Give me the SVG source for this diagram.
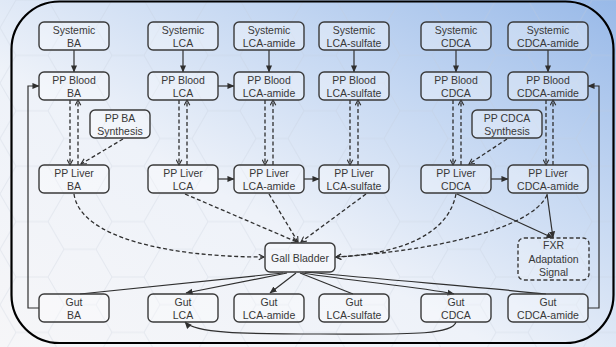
<svg xmlns="http://www.w3.org/2000/svg" width="616" height="347" viewBox="0 0 616 347">
  <defs>
    <linearGradient id="bg" x1="0" y1="1" x2="1" y2="0">
      <stop offset="0" stop-color="#f6f6f8"/>
      <stop offset="0.4" stop-color="#eef2f9"/>
      <stop offset="0.7" stop-color="#c4d7f2"/>
      <stop offset="1" stop-color="#98b9e8"/>
    </linearGradient>
    <pattern id="hex" width="96" height="55.4" patternUnits="userSpaceOnUse">
      <path d="M0,27.7 L16,0 H48 L64,27.7 L48,55.4 H16 Z M64,27.7 H96" fill="none" stroke="#c3cbd8" stroke-width="1"/>
    </pattern>
    <marker id="ah" viewBox="0 0 8 8" refX="7.5" refY="4" markerWidth="7" markerHeight="7" markerUnits="userSpaceOnUse" orient="auto">
      <path d="M0,0.5 L8,4 L0,7.5 Z" fill="#2f2f2f"/>
    </marker>
    <marker id="av" viewBox="0 0 8 8" refX="7" refY="4" markerWidth="7" markerHeight="7" markerUnits="userSpaceOnUse" orient="auto">
      <path d="M1,0.8 L7,4 L1,7.2" fill="none" stroke="#2f2f2f" stroke-width="1.3"/>
    </marker>
    <style>
      .box { fill: #ffffff; fill-opacity: 0.35; stroke: #3a3a3a; stroke-width: 1.4; }
      .dbox { fill: #ffffff; fill-opacity: 0.25; stroke: #3a3a3a; stroke-width: 1.4; stroke-dasharray: 4 2.5; }
      .t { font-family: "Liberation Sans", Arial, sans-serif; font-size: 10.5px; fill: #383838; text-anchor: middle; }
      .s { fill: none; stroke: #2f2f2f; stroke-width: 1.2; }
      .sa { fill: none; stroke: #2f2f2f; stroke-width: 1.2; marker-end: url(#ah); }
      .d { fill: none; stroke: #2f2f2f; stroke-width: 1.3; stroke-dasharray: 4 2.5; marker-end: url(#av); }
    </style>
  </defs>

  <!-- background -->
  <rect x="0" y="0" width="616" height="347" fill="url(#bg)"/>
  <rect x="0" y="0" width="616" height="347" fill="url(#hex)" opacity="0.3"/>

  <!-- outer frame -->
  <rect x="11.5" y="1.5" width="602" height="341.5" rx="48" ry="48" fill="none" stroke="#000" stroke-width="2.2"/>

  <!-- connectors -->
  <g id="connectors">
    <!-- systemic to PP blood -->
    <line class="sa" x1="74" y1="50" x2="74" y2="72"/>
    <line class="sa" x1="183" y1="50" x2="183" y2="72"/>
    <line class="sa" x1="269" y1="50" x2="269" y2="72"/>
    <line class="sa" x1="354" y1="50" x2="354" y2="72"/>
    <line class="sa" x1="456" y1="50" x2="456" y2="72"/>
    <line class="sa" x1="548" y1="50" x2="548" y2="72"/>

    <!-- conversions -->
    <line class="sa" x1="218" y1="86" x2="234" y2="86"/>
    <line class="sa" x1="218" y1="179" x2="234" y2="179"/>
    <line class="sa" x1="304" y1="179" x2="319" y2="179"/>
    <line class="sa" x1="491" y1="179" x2="508" y2="179"/>

    <!-- blood / liver exchange -->
    <line class="d" x1="70" y1="100" x2="70" y2="165"/>
    <line class="d" x1="78" y1="165" x2="78" y2="100"/>
    <line class="d" x1="179" y1="100" x2="179" y2="165"/>
    <line class="d" x1="187" y1="165" x2="187" y2="100"/>
    <line class="d" x1="265" y1="100" x2="265" y2="165"/>
    <line class="d" x1="273" y1="165" x2="273" y2="100"/>
    <line class="d" x1="350" y1="100" x2="350" y2="165"/>
    <line class="d" x1="358" y1="165" x2="358" y2="100"/>
    <line class="d" x1="453" y1="100" x2="453" y2="165"/>
    <line class="d" x1="461" y1="165" x2="461" y2="100"/>
    <line class="d" x1="546" y1="100" x2="546" y2="165"/>
    <line class="d" x1="553" y1="165" x2="553" y2="100"/>

    <!-- synthesis -->
    <path class="d" d="M123,139 L81,164"/>
    <path class="d" d="M507,139 L469,164"/>

    <!-- liver to gall bladder -->
    <path class="d" d="M74,194 C80,238 170,257 264,257"/>
    <path class="d" d="M185,194 L297,242"/>
    <path class="d" d="M269,194 L298,242"/>
    <path class="d" d="M366,194 L301,242"/>
    <path class="d" d="M456,194 C448,235 400,254 336,257"/>
    <path class="d" d="M547,195 C530,232 420,252 336,257"/>

    <!-- FXR signal -->
    <path class="sa" d="M457,194 L553,238"/>
    <path class="sa" d="M547,194 L553,238"/>

    <!-- gall bladder to gut -->
    <path class="s" d="M283,273 L80,294"/>
    <path class="sa" d="M287,273 L186,293"/>
    <path class="sa" d="M296,273 L270,293"/>
    <path class="s" d="M300,273 L353,294"/>
    <path class="sa" d="M302,273 C360,282 420,287 454,294"/>
    <path class="s" d="M305,272 C400,281 500,289 546,294"/>

    <!-- gut CDCA to gut LCA -->
    <path class="sa" d="M456,322 C452,336 400,334 320,334 C240,334 195,333 185,322"/>

    <!-- recirculation -->
    <path class="sa" d="M39,308 H28 V86 H39"/>
    <path class="sa" d="M588,308 H599 V86 H588"/>
  </g>

  <!-- systemic row -->
  <g id="sys-ba"><rect class="box" x="39" y="22" width="70" height="28" rx="5"/><text class="t" x="74" y="33.5">Systemic</text><text class="t" x="74" y="47">BA</text></g>
  <g id="sys-lca"><rect class="box" x="148" y="22" width="70" height="28" rx="5"/><text class="t" x="183" y="33.5">Systemic</text><text class="t" x="183" y="47">LCA</text></g>
  <g id="sys-lca-amide"><rect class="box" x="234" y="22" width="70" height="28" rx="5"/><text class="t" x="269" y="33.5">Systemic</text><text class="t" x="269" y="47">LCA-amide</text></g>
  <g id="sys-lca-sulfate"><rect class="box" x="319" y="22" width="70" height="28" rx="5"/><text class="t" x="354" y="33.5">Systemic</text><text class="t" x="354" y="47">LCA-sulfate</text></g>
  <g id="sys-cdca"><rect class="box" x="421" y="22" width="70" height="28" rx="5"/><text class="t" x="456" y="33.5">Systemic</text><text class="t" x="456" y="47">CDCA</text></g>
  <g id="sys-cdca-amide"><rect class="box" x="508" y="22" width="80" height="28" rx="5"/><text class="t" x="548" y="33.5">Systemic</text><text class="t" x="548" y="47">CDCA-amide</text></g>

  <!-- portal blood row -->
  <g id="blood-ba"><rect class="box" x="39" y="72" width="70" height="28" rx="5"/><text class="t" x="74" y="83.5">PP Blood</text><text class="t" x="74" y="97">BA</text></g>
  <g id="blood-lca"><rect class="box" x="148" y="72" width="70" height="28" rx="5"/><text class="t" x="183" y="83.5">PP Blood</text><text class="t" x="183" y="97">LCA</text></g>
  <g id="blood-lca-amide"><rect class="box" x="234" y="72" width="70" height="28" rx="5"/><text class="t" x="269" y="83.5">PP Blood</text><text class="t" x="269" y="97">LCA-amide</text></g>
  <g id="blood-lca-sulfate"><rect class="box" x="319" y="72" width="70" height="28" rx="5"/><text class="t" x="354" y="83.5">PP Blood</text><text class="t" x="354" y="97">LCA-sulfate</text></g>
  <g id="blood-cdca"><rect class="box" x="421" y="72" width="70" height="28" rx="5"/><text class="t" x="456" y="83.5">PP Blood</text><text class="t" x="456" y="97">CDCA</text></g>
  <g id="blood-cdca-amide"><rect class="box" x="508" y="72" width="80" height="28" rx="5"/><text class="t" x="548" y="83.5">PP Blood</text><text class="t" x="548" y="97">CDCA-amide</text></g>

  <!-- synthesis -->
  <g id="synth-ba"><rect class="box" x="90" y="110" width="60" height="28" rx="5"/><text class="t" x="120" y="121.5">PP BA</text><text class="t" x="120" y="135">Synthesis</text></g>
  <g id="synth-cdca"><rect class="box" x="472" y="110" width="70" height="28" rx="5"/><text class="t" x="507" y="121.5">PP CDCA</text><text class="t" x="507" y="135">Synthesis</text></g>

  <!-- portal liver row -->
  <g id="liver-ba"><rect class="box" x="39" y="165" width="70" height="28" rx="5"/><text class="t" x="74" y="176.5">PP Liver</text><text class="t" x="74" y="190">BA</text></g>
  <g id="liver-lca"><rect class="box" x="148" y="165" width="70" height="28" rx="5"/><text class="t" x="183" y="176.5">PP Liver</text><text class="t" x="183" y="190">LCA</text></g>
  <g id="liver-lca-amide"><rect class="box" x="234" y="165" width="70" height="28" rx="5"/><text class="t" x="269" y="176.5">PP Liver</text><text class="t" x="269" y="190">LCA-amide</text></g>
  <g id="liver-lca-sulfate"><rect class="box" x="319" y="165" width="70" height="28" rx="5"/><text class="t" x="354" y="176.5">PP Liver</text><text class="t" x="354" y="190">LCA-sulfate</text></g>
  <g id="liver-cdca"><rect class="box" x="421" y="165" width="70" height="28" rx="5"/><text class="t" x="456" y="176.5">PP Liver</text><text class="t" x="456" y="190">CDCA</text></g>
  <g id="liver-cdca-amide"><rect class="box" x="508" y="165" width="80" height="28" rx="5"/><text class="t" x="548" y="176.5">PP Liver</text><text class="t" x="548" y="190">CDCA-amide</text></g>

  <!-- gall bladder and signal -->
  <g id="gall-bladder"><rect class="box" x="265" y="243" width="70" height="29" rx="5"/><text class="t" x="300" y="261.5">Gall Bladder</text></g>
  <g id="fxr"><rect class="dbox" x="518" y="238" width="71" height="42" rx="6"/><text class="t" x="553.5" y="249">FXR</text><text class="t" x="553.5" y="262.5">Adaptation</text><text class="t" x="553.5" y="276">Signal</text></g>

  <!-- gut row -->
  <g id="gut-ba"><rect class="box" x="39" y="294" width="70" height="28" rx="5"/><text class="t" x="74" y="305.5">Gut</text><text class="t" x="74" y="319">BA</text></g>
  <g id="gut-lca"><rect class="box" x="148" y="294" width="70" height="28" rx="5"/><text class="t" x="183" y="305.5">Gut</text><text class="t" x="183" y="319">LCA</text></g>
  <g id="gut-lca-amide"><rect class="box" x="234" y="294" width="70" height="28" rx="5"/><text class="t" x="269" y="305.5">Gut</text><text class="t" x="269" y="319">LCA-amide</text></g>
  <g id="gut-lca-sulfate"><rect class="box" x="319" y="294" width="70" height="28" rx="5"/><text class="t" x="354" y="305.5">Gut</text><text class="t" x="354" y="319">LCA-sulfate</text></g>
  <g id="gut-cdca"><rect class="box" x="421" y="294" width="70" height="28" rx="5"/><text class="t" x="456" y="305.5">Gut</text><text class="t" x="456" y="319">CDCA</text></g>
  <g id="gut-cdca-amide"><rect class="box" x="508" y="294" width="80" height="28" rx="5"/><text class="t" x="548" y="305.5">Gut</text><text class="t" x="548" y="319">CDCA-amide</text></g>
</svg>
